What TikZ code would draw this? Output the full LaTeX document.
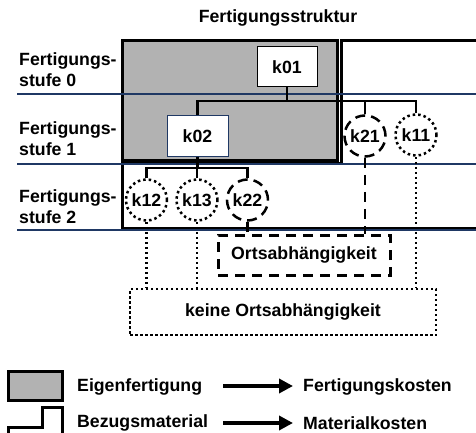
\documentclass[tikz,border=0pt]{standalone}
\usepackage{fontspec}
\setmainfont{Liberation Sans}
\usetikzlibrary{arrows.meta}

\definecolor{rulenavy}{RGB}{31,56,100}
\definecolor{ownfill}{RGB}{178,178,178}

\begin{document}
\begin{tikzpicture}[x=1pt,y=-1pt,
  every node/.style={font=\bfseries\fontsize{17.7}{21.5}\selectfont, inner sep=0pt},
  frame/.style={line width=3pt, line join=miter},
  partbox/.style={draw, line width=1pt, fill=white, minimum width=60pt, minimum height=40pt},
  dashcirc/.style={circle, draw, line width=2.5pt, dash pattern=on 10pt off 6pt, fill=white, minimum size=41pt},
  dotcirc/.style={circle, draw, line width=2.5pt, dash pattern=on 2.5pt off 3pt, fill=white, minimum size=41pt},
  link/.style={line width=2.6pt},
  dashlink/.style={line width=2.5pt, dash pattern=on 10pt off 7pt},
  dotlink/.style={line width=2.5pt, dash pattern=on 2.5pt off 2.5pt},
  levelrule/.style={draw=rulenavy, line width=1.3pt},
  costarrow/.style={line width=4pt, -{Triangle[length=14pt,width=14pt]}},
]
\useasboundingbox (0,0) rectangle (476,433);

% title
\node[anchor=base] (title) at (278,23) {Fertigungsstruktur};

% level labels
\node[anchor=north west, align=left] (lv0) at (19,52) {Fertigungs-\\stufe 0};
\node[anchor=north west, align=left] (lv1) at (19,121) {Fertigungs-\\stufe 1};
\node[anchor=north west, align=left] (lv2) at (19,189) {Fertigungs-\\stufe 2};

% purchased material outline (step shape)
\draw[frame] (476,41) -- (341,41) -- (341,163) -- (122,163) -- (122,228) -- (476,228);
% in-house production area
\draw[frame, fill=ownfill] (122,41) rectangle (337,160);

% level separators
\draw[levelrule] (17,94) -- (476,94);
\draw[levelrule] (17,164) -- (476,164);
\draw[levelrule] (17,230) -- (476,230);

% parts
\node[partbox] (k01) at (287,67) {k01};
\node[partbox, draw=rulenavy, minimum width=61pt] (k02) at (197.5,136) {k02};
\node[dashcirc] (k21) at (365,136) {k21};
\node[dotcirc] (k11) at (416,135) {k11};
\node[dotcirc] (k12) at (146.5,200) {k12};
\node[dotcirc] (k13) at (197,200) {k13};
\node[dashcirc] (k22) at (247.5,200) {k22};

% location groups
\node[draw, line width=3pt, dash pattern=on 10pt off 7pt, minimum width=172pt, minimum height=40pt] (orts) at (304,255) {Ortsabhängigkeit};
\node[draw, line width=2.5pt, dash pattern=on 2.5pt off 2.5pt, minimum width=306pt, minimum height=46pt] (keine) at (283,312) {keine Ortsabhängigkeit};

% structure links
\coordinate (bus1) at (0,101);
\coordinate (bus2) at (0,168);
\draw[link] (k01.south) -- (k01.south |- bus1);
\draw[link] (k02.north) -- (k02.north |- bus1) -- (k11.north |- bus1) -- (k11.north);
\draw[link] (k21.north |- bus1) -- (k21.north);
\draw[link] (k02.south) -- (k02.south |- bus2);
\draw[link] (k12.north) -- (k12.north |- bus2) -- (k22.north |- bus2) -- (k22.north);
\draw[link] (k13.north |- bus2) -- (k13.north);

% location links
\draw[dashlink] (k21.south) -- (k21.south |- orts.north);
\draw[dashlink] (k22.south) -- (k22.south |- orts.north);
\draw[dotlink] (k12.south) -- (k12.south |- keine.north);
\draw[dotlink] (k13.south) -- (k13.south |- keine.north);
\draw[dotlink] (k11.south) -- (k11.south |- keine.north);

% legend
\node[draw, line width=3pt, fill=ownfill, minimum width=54pt, minimum height=29pt] (lgown) at (35,385.5) {};
\draw[frame] (8,433) -- (8,427) -- (42,427) -- (42,407) -- (62,407) -- (62,433);
\node[anchor=west] (eigen) at (77,387) {Eigenfertigung};
\node[anchor=west] (bezug) at (77,423) {Bezugsmaterial};
\node[anchor=west] (fkost) at (303,387) {Fertigungskosten};
\node[anchor=west] (mkost) at (303,423) {Materialkosten};
\coordinate (a1) at (223,386);
\coordinate (a2) at (223,423);
\draw[costarrow, shorten >=10pt] (a1) -- (fkost.west |- a1);
\draw[costarrow, shorten >=10pt] (a2) -- (mkost.west |- a2);
\end{tikzpicture}
\end{document}
